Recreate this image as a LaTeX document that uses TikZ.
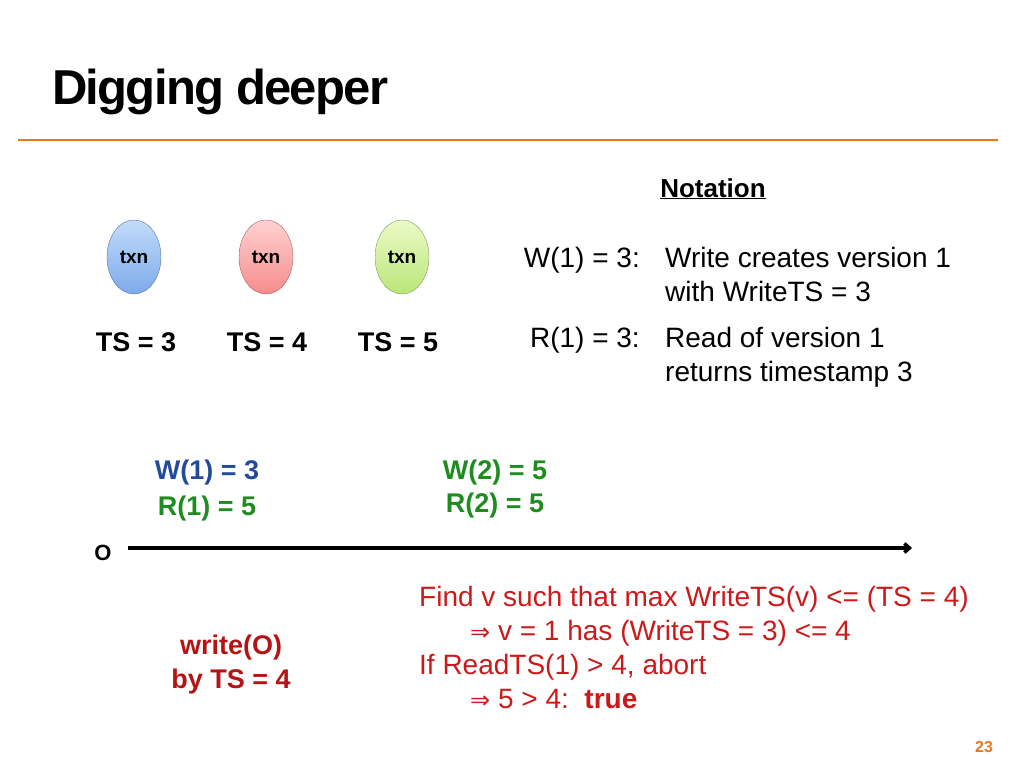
\documentclass[tikz,border=0pt]{standalone}
\usepackage{fontspec}
\setmainfont{Liberation Sans}
\newfontfamily\djv{DejaVu Sans}
\usetikzlibrary{shapes.geometric,arrows.meta}
\definecolor{orng}{RGB}{230,120,30}
\definecolor{blu}{RGB}{35,75,155}
\definecolor{grn}{RGB}{30,140,30}
\definecolor{rd}{RGB}{205,25,25}
\definecolor{drd}{RGB}{180,20,20}
\definecolor{bl1}{RGB}{195,220,250}
\definecolor{bl2}{RGB}{125,170,235}
\definecolor{rd1}{RGB}{255,210,210}
\definecolor{rd2}{RGB}{245,140,140}
\definecolor{gr1}{RGB}{235,250,200}
\definecolor{gr2}{RGB}{185,230,120}
\tikzset{
  txn/.style={ellipse,minimum width=54pt,minimum height=74pt,inner sep=0pt,font=\fontsize{19}{22}\selectfont\bfseries},
  body/.style={font=\fontsize{28}{32}\selectfont,inner sep=0pt},
  bbody/.style={font=\fontsize{27}{32}\selectfont\bfseries,inner sep=0pt},
}
\begin{document}
\begin{tikzpicture}[x=1pt,y=-1pt]
\useasboundingbox (0,0) rectangle (1024,768);
\node[anchor=base west,inner sep=0pt,font=\fontsize{49}{54}\selectfont\bfseries\addfontfeatures{LetterSpace=-3.5}] (title) at (52,104) {Digging deeper};
\draw[orng,line width=2.5pt] (18,140) -- (998,140);
\node[bbody,anchor=base,font=\fontsize{26}{30}\selectfont\bfseries] (not) at (713,197) {\underline{Notation}};
\node[txn,draw=bl2!70!black,top color=bl1,bottom color=bl2] (t1) at (134,257) {txn};
\node[txn,draw=rd2!70!black,top color=rd1,bottom color=rd2] (t2) at (266,257) {txn};
\node[txn,draw=gr2!70!black,top color=gr1,bottom color=gr2] (t3) at (402,257) {txn};
\node[bbody,anchor=base] (ts1) at (136,351) {TS = 3};
\node[bbody,anchor=base] (ts2) at (267,351) {TS = 4};
\node[bbody,anchor=base] (ts3) at (398,351) {TS = 5};
\node[body,anchor=base east] (w) at (640,267) {W(1) = 3:};
\node[body,anchor=base west] (w1) at (665,267) {Write creates version 1};
\node[body,anchor=base west] (w2) at (665,301) {with WriteTS = 3};
\node[body,anchor=base east] (r) at (640,347) {R(1) = 3:};
\node[body,anchor=base west] (r1) at (665,347) {Read of version 1};
\node[body,anchor=base west] (r2) at (665,381) {returns timestamp 3};
\node[bbody,anchor=base,blu] (a1) at (207,479) {W(1) = 3};
\node[bbody,anchor=base,grn] (a2) at (207,515) {R(1) = 5};
\node[bbody,anchor=base,grn] (b1) at (495,479) {W(2) = 5};
\node[bbody,anchor=base,grn] (b2) at (495,512) {R(2) = 5};
\node[bbody,anchor=base,font=\fontsize{22}{26}\selectfont\bfseries] (o) at (103,560) {O};
\coordinate (s) at (128,548);
\coordinate (e) at (912,548);
\draw[line width=3.5pt,-{Straight Barb[length=5pt,width=9pt]}] (s) -- (e);
\node[body,anchor=base west,rd] (f1) at (419,606) {Find v such that max WriteTS(v) <= (TS = 4)};
\node[body,anchor=base west,rd] (f2) at (470,640) {{\djv\fontsize{24}{28}\selectfont ⇒} v = 1 has (WriteTS = 3) <= 4};
\node[body,anchor=base west,rd] (f3) at (419,674) {If ReadTS(1) > 4, abort};
\node[body,anchor=base west,rd] (f4) at (470,708) {{\djv\fontsize{24}{28}\selectfont ⇒} 5 > 4:\ \ \textbf{true}};
\node[bbody,anchor=base,drd] (wo1) at (231,654) {write(O)};
\node[bbody,anchor=base,drd] (wo2) at (231,688) {by TS = 4};
\node[anchor=base,inner sep=0pt,orng,font=\fontsize{16}{18}\selectfont\bfseries] (pg) at (984,752) {23};
\end{tikzpicture}
\end{document}
